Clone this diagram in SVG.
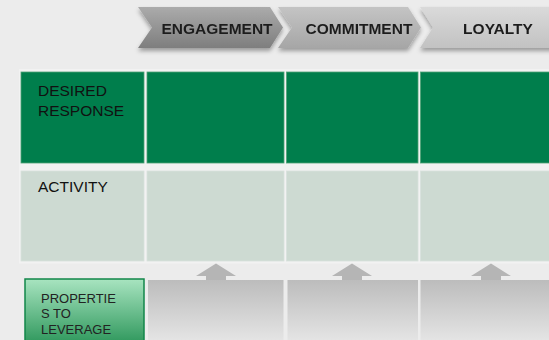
<svg xmlns="http://www.w3.org/2000/svg" width="549" height="340" viewBox="0 0 549 340">
  <defs>
    <linearGradient id="chev1" x1="0" y1="0" x2="0" y2="1">
      <stop offset="0" stop-color="#ababab"/>
      <stop offset="1" stop-color="#7e7e7e"/>
    </linearGradient>
    <linearGradient id="chev2" x1="0" y1="0" x2="0" y2="1">
      <stop offset="0" stop-color="#c4c4c4"/>
      <stop offset="1" stop-color="#a6a6a6"/>
    </linearGradient>
    <linearGradient id="chev3" x1="0" y1="0" x2="0" y2="1">
      <stop offset="0" stop-color="#dadada"/>
      <stop offset="1" stop-color="#c2c2c2"/>
    </linearGradient>
    <linearGradient id="propFill" x1="0" y1="279" x2="0" y2="345" gradientUnits="userSpaceOnUse">
      <stop offset="0" stop-color="#a8e4c0"/>
      <stop offset="1" stop-color="#2c965a"/>
    </linearGradient>
    <linearGradient id="baseFill" x1="0" y1="0" x2="0" y2="1">
      <stop offset="0" stop-color="#bcbcbc"/>
      <stop offset="1" stop-color="#e4e4e4"/>
    </linearGradient>
    <filter id="shadow" x="-10%" y="-30%" width="120%" height="170%">
      <feDropShadow dx="0" dy="3" stdDeviation="2" flood-color="#000" flood-opacity="0.35"/>
    </filter>
    <style>
      .chevText { font-family: "Liberation Sans", Arial, sans-serif; font-weight: bold; font-size: 15.5px; fill: #1e1e1e; text-anchor: middle; }
      .rowText { font-family: "Liberation Sans", Arial, sans-serif; font-size: 15.5px; fill: #111; }
      .propText { font-family: "Liberation Sans", Arial, sans-serif; font-size: 13px; fill: #222; }
      .response { fill: #007e4c; stroke: #4fa277; stroke-width: 0.8; }
      .activity { fill: #cddad2; stroke: #d8e2dc; stroke-width: 0.8; }
      .base { fill: url(#baseFill); }
      .upArrow { fill: #b5b5b5; }
    </style>
  </defs>

  <!-- page background and table panel -->
  <rect x="0" y="0" width="549" height="340" fill="#ececec"/>
  <rect x="19" y="69" width="530" height="194.5" fill="#f2f2f2"/>

  <!-- stage chevrons -->
  <g id="stage-engagement" filter="url(#shadow)">
    <polygon points="138,7 270,7 283,27.5 270,48 138,48 152,27.5" fill="url(#chev1)"/>
    <text class="chevText" x="217" y="34">ENGAGEMENT</text>
  </g>
  <g id="stage-commitment" filter="url(#shadow)">
    <polygon points="278,7 408,7 421,27.5 408,48 278,48 292,27.5" fill="url(#chev2)"/>
    <text class="chevText" x="359" y="34">COMMITMENT</text>
  </g>
  <g id="stage-loyalty" filter="url(#shadow)">
    <polygon points="420,7 560,7 560,48 420,48 433,27.5" fill="url(#chev3)"/>
    <text class="chevText" x="498" y="34">LOYALTY</text>
  </g>

  <!-- desired response row -->
  <g id="row-desired-response">
    <rect class="response" x="21" y="72" width="123" height="91"/>
    <text class="rowText" x="38" y="96">DESIRED</text>
    <text class="rowText" x="38" y="116">RESPONSE</text>
  </g>
  <g id="response-engagement"><rect class="response" x="147" y="72" width="137" height="91"/></g>
  <g id="response-commitment"><rect class="response" x="286.5" y="72" width="131.5" height="91"/></g>
  <g id="response-loyalty"><rect class="response" x="420.5" y="72" width="130" height="91"/></g>

  <!-- activity row -->
  <g id="row-activity">
    <rect class="activity" x="21" y="171" width="123" height="90"/>
    <text class="rowText" x="38" y="192">ACTIVITY</text>
  </g>
  <g id="activity-engagement"><rect class="activity" x="147" y="171" width="137" height="90"/></g>
  <g id="activity-commitment"><rect class="activity" x="286.5" y="171" width="131.5" height="90"/></g>
  <g id="activity-loyalty"><rect class="activity" x="420.5" y="171" width="130" height="90"/></g>

  <!-- properties row -->
  <g id="row-properties">
    <rect x="25" y="279" width="119" height="70" fill="url(#propFill)" stroke="#12864a" stroke-width="1.5"/>
    <text class="propText" x="41" y="302.5">PROPERTIE</text>
    <text class="propText" x="41" y="318">S TO</text>
    <text class="propText" x="41" y="334">LEVERAGE</text>
  </g>
  <g id="properties-engagement"><rect class="base" x="148" y="280" width="135.5" height="60"/></g>
  <g id="properties-commitment"><rect class="base" x="287.5" y="280" width="130.5" height="60"/></g>
  <g id="properties-loyalty"><rect class="base" x="420.5" y="280" width="129" height="60"/></g>

  <!-- upward connectors from properties to activities -->
  <g id="connectors">
    <polygon class="upArrow" points="216,263.5 236,276 226,276 226,280 206,280 206,276 196,276"/>
    <polygon class="upArrow" points="352,263.5 372,276 362,276 362,280 342,280 342,276 332,276"/>
    <polygon class="upArrow" points="491,263.5 511,276 501,276 501,280 481,280 481,276 471,276"/>
  </g>
</svg>
